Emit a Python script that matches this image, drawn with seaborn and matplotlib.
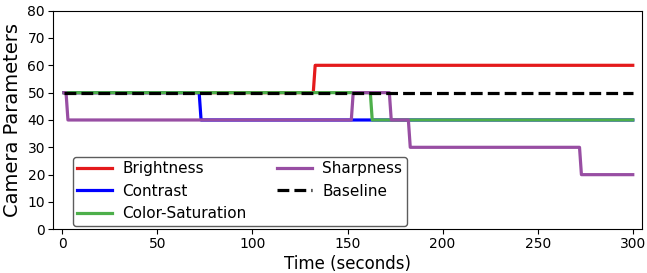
import numpy as np
import pandas as pd
import matplotlib
matplotlib.use("Agg")
import matplotlib.pyplot as plt
import seaborn as sb

# breakpoints (time in seconds, parameter value)
brightness_t = [1, 132, 133, 300]
brightness_v = [50, 50, 60, 60]

contrast_t = [1, 72, 73, 300]
contrast_v = [50, 50, 40, 40]

saturation_t = [1, 162, 163, 300]
saturation_v = [50, 50, 40, 40]

sharpness_t = [1, 2, 3, 152, 153, 172, 173, 182, 183, 272, 273, 300]
sharpness_v = [50, 50, 40, 40, 50, 50, 40, 40, 30, 30, 20, 20]

baseline_t = [1, 300]
baseline_v = [50, 50]

names = ["Brightness", "Contrast", "Color-Saturation", "Sharpness", "Baseline"]
colors = ["#e41a1c", "blue", "#4daf4a", "#984ea3", "black"]

parts = []
for name, t, v in zip(names,
                      [brightness_t, contrast_t, saturation_t, sharpness_t, baseline_t],
                      [brightness_v, contrast_v, saturation_v, sharpness_v, baseline_v]):
    parts.append(pd.DataFrame({"Time": t, "Value": v, "Param": name}))
data = pd.concat(parts, ignore_index=True)

fig, ax = plt.subplots(figsize=(6.47, 2.73), dpi=100)
fig.subplots_adjust(left=0.0815, right=0.9927, top=0.961, bottom=0.160)

sb.lineplot(data=data, x="Time", y="Value", hue="Param", style="Param",
            hue_order=names, style_order=names,
            palette=dict(zip(names, colors)),
            dashes={"Brightness": "", "Contrast": "", "Color-Saturation": "",
                    "Sharpness": "", "Baseline": (3.7, 1.6)},
            estimator=None, sort=False, linewidth=2.3, ax=ax)

ax.set_xlim(-5, 305)
ax.set_ylim(0, 80)
ax.set_xticks([0, 50, 100, 150, 200, 250, 300])
ax.set_yticks(range(0, 81, 10))
ax.tick_params(labelsize=10, pad=2)
ax.set_xlabel("Time (seconds)", fontsize=12, labelpad=3)
ax.set_ylabel("Camera Parameters", fontsize=14)

handles, labels = ax.get_legend_handles_labels()
ax.legend(handles, labels, ncol=2, fontsize=11, loc="lower left",
          bbox_to_anchor=(0.034, 0.015), borderaxespad=0, edgecolor="#333333",
          columnspacing=2.0, handlelength=2.3, handletextpad=0.65,
          borderpad=0.3, labelspacing=0.5)

plt.savefig("out.png")
